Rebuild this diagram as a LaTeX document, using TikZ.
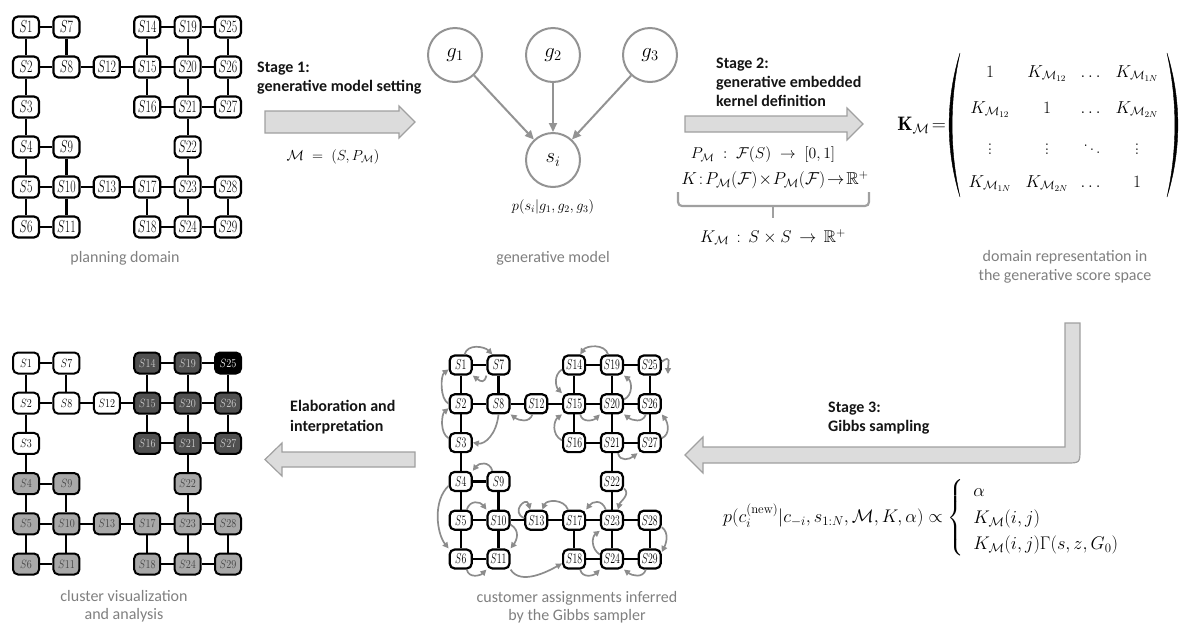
\RequirePackage{fix-cm}
\documentclass[tikz,border=0pt]{standalone}
\usepackage{amsmath,amssymb}
\usepackage{graphicx}
\usepackage{fontspec}
\newfontfamily\labelfont{Carlito}
\usetikzlibrary{arrows.meta}

\definecolor{arrowfill}{HTML}{DCDCDC}
\definecolor{arrowline}{HTML}{A0A0A0}
\definecolor{capgray}{HTML}{7F7F7F}
\definecolor{gibgray}{HTML}{8C8C8C}
\definecolor{circgray}{HTML}{939393}
\definecolor{darkcl}{HTML}{505050}
\definecolor{lightcl}{HTML}{A8A8A8}

% state label: italic S with the state number, set narrow
\newcommand\slab[2][0.68]{\scalebox{#1}[1]{$S#2$}}
% taller dots for the kernel matrix
\newcommand\tallvdots{\scalebox{1}[1.15]{$\vdots$}}
\newcommand\tallddots{\scalebox{1}[1.15]{$\ddots$}}

\tikzset{
  tn/.style={draw, line width=2.2pt, rounded corners=5pt, minimum width=26pt,
    minimum height=21pt, inner sep=0pt, fill=white, font=\fontsize{17.3}{17.3}\selectfont},
  cn/.style={tn, line width=2pt, font=\fontsize{12}{12}\selectfont},
  bn/.style={tn, minimum width=22pt, minimum height=19pt, font=\fontsize{14.4}{14.4}\selectfont},
  cw/.style={fill=white, text=black},
  cd/.style={fill=darkcl, text=black!18},
  ck/.style={fill=black, text=white},
  cl/.style={fill=lightcl, text=black!75},
  gedge/.style={line width=2.2pt},
  gib/.style={draw=gibgray, line width=1.7pt, -{Triangle[length=6pt,width=6pt]}},
  circ/.style={circle, draw=circgray, line width=2pt, minimum size=54pt, inner sep=0pt,
    font=\fontsize{20.7}{20.7}\selectfont},
  garrow/.style={draw=circgray, line width=2pt, -{Triangle[length=9pt,width=8pt]}},
  blockarrow/.style={fill=arrowfill, draw=arrowline, line width=1.2pt},
  brace/.style={draw=arrowline, line width=2.2pt, rounded corners=4pt},
  stage/.style={font=\labelfont\bfseries\fontsize{16}{19}\selectfont, text=black!92, inner sep=0pt, anchor=base west},
  caption/.style={font=\labelfont\fontsize{16}{19}\selectfont, text=capgray, inner sep=0pt, anchor=base},
  formula/.style={inner sep=0pt, font=\fontsize{14.5}{18}\selectfont},
  ment/.style={inner sep=0pt, anchor=base, font=\fontsize{17.3}{18}\selectfont},
  paren/.style={fill=black, draw=black, line width=0.4pt},
}

\begin{document}
\begin{tikzpicture}[x=1pt, y=-1pt]
\useasboundingbox (0,0) rectangle (1181,622);

% ---------- planning domain ----------
\foreach \n/\c/\r in {1/0/0, 7/1/0, 14/3/0, 19/4/0, 25/5/0,
  2/0/1, 8/1/1, 12/2/1, 15/3/1, 20/4/1, 26/5/1,
  3/0/2, 16/3/2, 21/4/2, 27/5/2,
  4/0/3, 9/1/3, 22/4/3,
  5/0/4, 10/1/4, 13/2/4, 17/3/4, 23/4/4, 28/5/4,
  6/0/5, 11/1/5, 18/3/5, 24/4/5, 29/5/5}
  \node[tn] (t\n) at ({26+40.4*\c},{27+40*\r}) {\slab{\n}};
\foreach \a/\b in {1/7, 1/2, 7/8, 2/8, 8/12, 12/15, 2/3, 3/4, 4/9, 4/5, 9/10, 5/10,
  10/13, 13/17, 17/23, 23/28, 5/6, 10/11, 6/11, 14/19, 19/25, 14/15, 19/20, 25/26,
  15/20, 20/26, 15/16, 20/21, 26/27, 16/21, 21/27, 21/22, 22/23, 17/18, 23/24,
  28/29, 18/24, 24/29}
  \draw[gedge] (t\a) -- (t\b);
\node[caption] (cap1) at (125,262) {planning domain};

% ---------- stage 1 ----------
\node[stage] (st1a) at (257,72.5) {Stage 1:};
\node[stage] (st1b) at (257,91) {generative model setting};
\draw[blockarrow] (265,111) -- (399,111) -- (399,106) -- (415,122) -- (399,138)
  -- (399,133) -- (265,133) -- cycle;
\node[formula] (mdef) at (333,157) {$\mathcal{M}\;=\;(S,P_{\mathcal{M}})$};

% ---------- generative model ----------
\node[circ] (g1) at (455,55) {$g_1$};
\node[circ] (g2) at (553,55) {$g_2$};
\node[circ] (g3) at (650,55) {$g_3$};
\node[circ] (si) at (553,160) {$s_i$};
\draw[garrow] (g1) -- (si);
\draw[garrow] (g2) -- (si);
\draw[garrow] (g3) -- (si);
\node[formula, font=\fontsize{14.4}{18}\selectfont] (pcond) at (553,207) {$p(s_i|g_1,g_2,g_3)$};
\node[caption] (cap2) at (553,262) {generative model};

% ---------- stage 2 ----------
\node[stage] (st2a) at (716,68.5) {Stage 2:};
\node[stage] (st2b) at (716,87.5) {generative embedded};
\node[stage] (st2c) at (716,106.5) {kernel definition};
\draw[blockarrow] (685,116) -- (847,116) -- (847,108) -- (863,124) -- (847,140)
  -- (847,132) -- (685,132) -- cycle;
\node[formula, font=\fontsize{15.7}{18}\selectfont] (pm) at (763,155)
  {$P_{\mathcal{M}}\;:\;\mathcal{F}(S)\;\to\;[0,1]$};
\node[formula, font=\fontsize{17.3}{18}\selectfont] (kdef) at (775,180)
  {$K\!:\!P_{\mathcal{M}}(\mathcal{F})\!\times\!P_{\mathcal{M}}(\mathcal{F})\!\to\!\mathbb{R}^+$};
\draw[brace] (678,192) -- (678,206) -- (869,206) -- (869,192);
\draw[draw=arrowline, line width=2.2pt] (773,206) -- (773,218);
\node[formula, font=\fontsize{17}{20}\selectfont] (kmdef) at (773,237)
  {$K_{\mathcal{M}}\,:\,S\times S\,\to\,\mathbb{R}^+$};

% ---------- kernel matrix ----------
\node[formula, font=\fontsize{19.5}{24}\selectfont, anchor=east] (kmat) at (946,125)
  {$\mathbf{K}_{\mathcal{M}}\!=$};
\fill[paren] (960,53) .. controls (945.5,100) and (945.5,150) .. (960,197)
  .. controls (949.5,150) and (949.5,100) .. (960,53) -- cycle;
\fill[paren] (1167,53) .. controls (1181.5,100) and (1181.5,150) .. (1167,197)
  .. controls (1177.5,150) and (1177.5,100) .. (1167,53) -- cycle;
\node[ment] (m11) at (990,77) {$1$};
\node[ment] (m12) at (1047,77) {$K_{\mathcal{M}_{12}}$};
\node[ment] (m13) at (1092,77) {$\dots$};
\node[ment] (m14) at (1137,77) {$K_{\mathcal{M}_{1N}}$};
\node[ment] (m21) at (990,113) {$K_{\mathcal{M}_{12}}$};
\node[ment] (m22) at (1047,113) {$1$};
\node[ment] (m23) at (1092,113) {$\dots$};
\node[ment] (m24) at (1137,113) {$K_{\mathcal{M}_{2N}}$};
\node[ment, anchor=center] (m31) at (990,146) {\tallvdots};
\node[ment, anchor=center] (m32) at (1047,146) {\tallvdots};
\node[ment, anchor=center] (m33) at (1092,146) {\tallddots};
\node[ment, anchor=center] (m34) at (1137,146) {\tallvdots};
\node[ment] (m41) at (990,187) {$K_{\mathcal{M}_{1N}}$};
\node[ment] (m42) at (1047,187) {$K_{\mathcal{M}_{2N}}$};
\node[ment] (m43) at (1092,187) {$\dots$};
\node[ment] (m44) at (1137,187) {$1$};
\node[caption] (cap3a) at (1065,261) {domain representation in};
\node[caption] (cap3b) at (1065,280) {the generative score space};

% ---------- stage 3 ----------
\draw[blockarrow] (1065,323) -- (1080,323) -- (1080,449) .. controls (1080,463) .. (1066,463)
  -- (703,463) -- (703,473) -- (685,455) -- (703,437) -- (703,447) -- (1065,447) -- cycle;
\node[stage] (st3a) at (828,412.5) {Stage 3:};
\node[stage] (st3b) at (828,431) {Gibbs sampling};
\node[formula, font=\fontsize{18.3}{22}\selectfont, anchor=west] (gibbs) at (723,518)
  {$p(c_i^{(\mathrm{new})}|c_{-i},s_{1:N},\mathcal{M},K,\alpha)\propto
    \begin{cases}\enspace\alpha\\ \enspace K_{\mathcal{M}}(i,j)\\ \enspace K_{\mathcal{M}}(i,j)\Gamma(s,z,G_0)\end{cases}$};

% ---------- customer assignments ----------
\foreach \n/\c/\r in {1/0/0, 7/1/0, 14/3/0, 19/4/0, 25/5/0,
  2/0/1, 8/1/1, 12/2/1, 15/3/1, 20/4/1, 26/5/1,
  3/0/2, 16/3/2, 21/4/2, 27/5/2,
  4/0/3, 9/1/3, 22/4/3,
  5/0/4, 10/1/4, 13/2/4, 17/3/4, 23/4/4, 28/5/4,
  6/0/5, 11/1/5, 18/3/5, 24/4/5, 29/5/5}
  \node[bn] (b\n) at ({460.7+37.8*\c},{365+38.8*\r}) {\slab{\n}};
\foreach \a/\b in {1/7, 1/2, 7/8, 2/8, 8/12, 12/15, 2/3, 3/4, 4/9, 4/5, 9/10, 5/10,
  10/13, 13/17, 17/23, 23/28, 5/6, 10/11, 6/11, 14/19, 19/25, 14/15, 19/20, 25/26,
  15/20, 20/26, 15/16, 20/21, 26/27, 16/21, 21/27, 21/22, 22/23, 17/18, 23/24,
  28/29, 18/24, 24/29}
  \draw[gedge] (b\a) -- (b\b);
\coordinate (l25) at (668,374);
\draw[gib] (b1.70) .. controls +(3,-11) and +(-8,-8) .. (b7.120);
\draw[gib] (b7.south west) .. controls +(-2,8) and +(8,6) .. (b1.south east);
\draw[gib] (b2.west) .. controls +(-9,-5) and +(-8,6) .. (b1.200);
\draw[gib] (b3.160) .. controls +(-9,-5) and +(-7,6) .. (b2.200);
\draw[gib] (b8.south) .. controls +(-2,20) and +(12,2) .. (b3.east);
\draw[gib] (b12.250) .. controls +(-3,9) and +(8,6) .. (b8.south east);
\draw[gib] (b19.110) .. controls +(-3,-11) and +(6,-9) .. (b14.60);
\draw[gib] (b14.200) .. controls +(-9,6) and +(-6,-6) .. (b15.north west);
\draw[gib] (b16.170) .. controls +(-11,-6) and +(-8,6) .. (b15.south west);
\draw[gib] (b20.20) .. controls +(9,-4) and +(8,6) .. (b19.south east);
\draw[gib] (b25.15) .. controls +(10,-8) and +(0,-10) .. (l25);
\draw[gib] (b15.300) .. controls +(2,9) and +(-6,6) .. (b20.south west);
\draw[gib] (b26.250) .. controls +(-3,9) and +(8,6) .. (b20.south east);
\draw[gib] (b27.20) .. controls +(9,-4) and +(6,8) .. (b26.south east);
\draw[gib] (b21.300) .. controls +(2,9) and +(-8,6) .. (b27.south west);
\draw[gib] (b9.120) .. controls +(-3,-10) and +(6,-8) .. (b4.north east);
\draw[gib] (b4.200) .. controls +(-16,15) and +(-12,-15) .. (b6.north west);
\draw[gib] (b5.60) .. controls +(3,-10) and +(-6,-8) .. (b10.north west);
\draw[gib] (b10.340) .. controls +(10,6) and +(6,-8) .. (b11.north east);
\draw[gib] (b6.300) .. controls +(2,9) and +(-6,6) .. (b11.south west);
\draw[gib] (b13.170) .. controls +(-14,-6) and +(-4,-14) .. (b13.120);
\draw[gib] (b17.120) .. controls +(-4,-11) and +(4,-10) .. (b13.60);
\draw[gib] (b11.south east) .. controls +(10,16) and +(-14,8) .. (b18.200);
\draw[gib] (b23.120) .. controls +(-4,-11) and +(6,-8) .. (b17.north east);
\draw[gib] (b22.330) .. controls +(7,6) and +(2,-8) .. (b23.60);
\draw[gib] (b24.160) .. controls +(-9,-6) and +(-8,6) .. (b23.south west);
\draw[gib] (b28.330) .. controls +(8,6) and +(4,-8) .. (b29.30);
\draw[gib] (b18.300) .. controls +(2,9) and +(-6,6) .. (b24.south west);
\draw[gib] (b29.250) .. controls +(-3,9) and +(8,6) .. (b24.south east);
\node[caption] (cap4a) at (577,602) {customer assignments inferred};
\node[caption] (cap4b) at (577,620) {by the Gibbs sampler};

% ---------- elaboration ----------
\node[stage] (st4a) at (290,411.5) {Elaboration and};
\node[stage] (st4b) at (290,431) {interpretation};
\draw[blockarrow] (415,452) -- (282,452) -- (282,443) -- (265,459.5) -- (282,476)
  -- (282,467) -- (415,467) -- cycle;

% ---------- cluster visualization ----------
\foreach \n/\c/\r/\s in {1/0/0/cw, 7/1/0/cw, 14/3/0/cd, 19/4/0/cd, 25/5/0/ck,
  2/0/1/cw, 8/1/1/cw, 12/2/1/cw, 15/3/1/cd, 20/4/1/cd, 26/5/1/cd,
  3/0/2/cw, 16/3/2/cd, 21/4/2/cd, 27/5/2/cd,
  4/0/3/cl, 9/1/3/cl, 22/4/3/cl,
  5/0/4/cl, 10/1/4/cl, 13/2/4/cl, 17/3/4/cl, 23/4/4/cl, 28/5/4/cl,
  6/0/5/cl, 11/1/5/cl, 18/3/5/cl, 24/4/5/cl, 29/5/5/cl}
  \node[cn,\s] (c\n) at ({26+40.4*\c},{363+40.2*\r}) {\slab[0.85]{\n}};
\foreach \a/\b in {1/7, 1/2, 7/8, 2/8, 8/12, 12/15, 2/3, 3/4, 4/9, 4/5, 9/10, 5/10,
  10/13, 13/17, 17/23, 23/28, 5/6, 10/11, 6/11, 14/19, 19/25, 14/15, 19/20, 25/26,
  15/20, 20/26, 15/16, 20/21, 26/27, 16/21, 21/27, 21/22, 22/23, 17/18, 23/24,
  28/29, 18/24, 24/29}
  \draw[gedge, line width=2pt] (c\a) -- (c\b);
\node[caption] (cap5a) at (124,601) {cluster visualization};
\node[caption] (cap5b) at (124,619) {and analysis};
\end{tikzpicture}
\end{document}
